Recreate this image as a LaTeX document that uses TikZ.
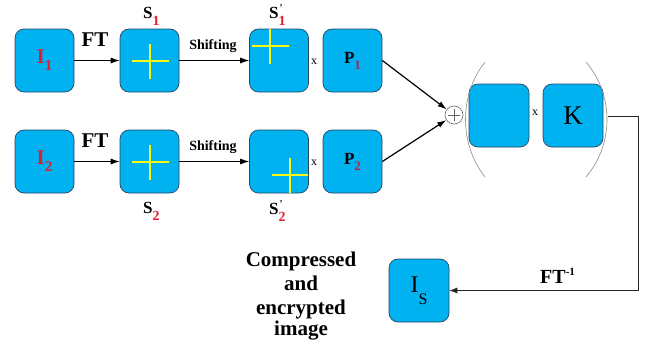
\documentclass[tikz,border=0pt]{standalone}
\usepackage{fontspec}
\setmainfont{Liberation Serif}
\usetikzlibrary{arrows.meta,calc}
\definecolor{boxfill}{RGB}{0,178,240}
\definecolor{boxline}{RGB}{40,70,100}
\definecolor{subred}{RGB}{225,30,45}
\definecolor{pred}{RGB}{190,30,70}
\definecolor{crossy}{RGB}{250,250,20}
\definecolor{parcol}{RGB}{140,140,140}
\newcommand\fs[1]{\fontsize{#1}{#1}\selectfont}
\newcommand\lowsub[3]{\raisebox{-#1}{\fs{#2}#3}}
\begin{document}
\begin{tikzpicture}[x=1pt,y=-1pt,
  box/.style={draw=boxline, fill=boxfill, rounded corners=9pt, minimum width=59pt,
    minimum height=63pt, inner sep=0pt, line width=0.7pt},
  crossline/.style={draw=crossy, line width=2.6pt},
  arr/.style={draw=black, line width=0.8pt, -{Latex[length=9pt,width=6pt]}},
  lbl/.style={inner sep=0pt, font=\bfseries},
  mult/.style={inner sep=0pt, font=\fs{12}}]
\useasboundingbox (0,0) rectangle (658,356);

% row 1
\node[box] (I1) at (44.5,60.5) {\fs{21}\bfseries\textcolor{subred}{I\lowsub{7pt}{15}{1}}};
\node[box] (S1) at (149.5,60.5) {};
\node[box] (S1p) at (279,60.5) {};
\node[box] (P1) at (352.5,60.5) {\fs{17}\bfseries P\textcolor{pred}{\lowsub{6pt}{13}{1}}};
% row 2
\node[box] (I2) at (44.5,161.5) {\fs{21}\bfseries\textcolor{subred}{I\lowsub{7pt}{15}{2}}};
\node[box] (S2) at (149.5,161.5) {};
\node[box] (S2p) at (279,161.5) {};
\node[box] (P2) at (352.5,161.5) {\fs{17}\bfseries P\textcolor{pred}{\lowsub{6pt}{13}{2}}};
% right group
\node[box, minimum width=60pt] (B) at (499,115.5) {};
\node[box, minimum width=60pt] (K) at (573,115.5) {\fs{27}K};
\node[box, minimum width=60pt] (Is) at (419,290.5) {\fs{24}I\lowsub{12pt}{16}{S}};

% crosses
\draw[crossline] (131.5,61) -- (168.5,61) (150,43.5) -- (150,78.5);
\draw[crossline] (131.5,162) -- (168.5,162) (150,144.5) -- (150,179.5);
\draw[crossline] (251.5,46) -- (288.5,46) (270,28.5) -- (270,63.5);
\draw[crossline] (272,175) -- (308,175) (290,158) -- (290,193);

% plus circle
\node[circle, draw=gray!80!black, fill=white, minimum size=18pt, inner sep=0pt, line width=0.6pt] (plus) at (454,115) {};
\draw[gray!80!black, line width=0.6pt] ($(plus.center)+(-6,0)$) -- ($(plus.center)+(6,0)$)
  ($(plus.center)+(0,-6)$) -- ($(plus.center)+(0,6)$);

% parentheses
\draw[parcol, line width=0.6pt] (485,62) .. controls (459,95) and (459,144) .. (485,177);
\draw[parcol, line width=0.6pt] (586,62) .. controls (614,95) and (614,144) .. (586,177);

% arrows
\draw[arr] (I1.east) -- (S1.west);
\draw[arr] (S1.east) -- (S1p.west);
\draw[arr] (I2.east) -- (S2.west);
\draw[arr] (S2.east) -- (S2p.west);
\draw[arr, line width=1.2pt] (P1.east) -- (plus);
\draw[arr, line width=1.2pt] (P2.east) -- (plus);
\coordinate (rp) at (608,116);
\coordinate (c1) at (638,116);
\draw[line width=0.7pt, draw=black!85, -{Latex[length=8pt,width=6pt]}] (rp) -- (c1) |- (Is.east);

% labels
\node[lbl, font=\fs{21}\bfseries] (ft1) at (95,40) {FT};
\node[lbl, font=\fs{21}\bfseries] (ft2) at (95,141) {FT};
\node[lbl, font=\fs{14}\bfseries] (sh1) at (213,46) {Shifting};
\node[lbl, font=\fs{14}\bfseries] (sh2) at (213,147) {Shifting};
\node[lbl, font=\fs{17}\bfseries, anchor=base west] (ls1) at (143,18) {S\textcolor{subred}{\lowsub{7pt}{14}{1}}};
\node[lbl, font=\fs{17}\bfseries, anchor=base west] (ls1p) at (269,18) {S\textcolor{subred}{\lowsub{7pt}{14}{1}}\llap{\raisebox{8pt}{\fs{9}'\kern3pt}}};
\node[lbl, font=\fs{17}\bfseries, anchor=base west] (ls2) at (143,213) {S\textcolor{subred}{\lowsub{7pt}{14}{2}}};
\node[lbl, font=\fs{17}\bfseries, anchor=base west] (ls2p) at (269,214) {S\textcolor{subred}{\lowsub{7pt}{14}{2}}\llap{\raisebox{8pt}{\fs{9}'\kern3pt}}};
\node[mult] (x1) at (314,62) {x};
\node[mult] (x2) at (314,163) {x};
\node[mult] (x3) at (535,113) {x};
\node[lbl, font=\fs{20}\bfseries, anchor=base west] (fti) at (540,283) {FT\raisebox{8pt}{\fs{11}-1}};
\node[lbl, font=\fs{21}\bfseries, align=center, text width=140pt] (cap) at (301,296)
  {\baselineskip=24pt Compressed\\ and\\ encrypted\\ image};
\end{tikzpicture}
\end{document}
